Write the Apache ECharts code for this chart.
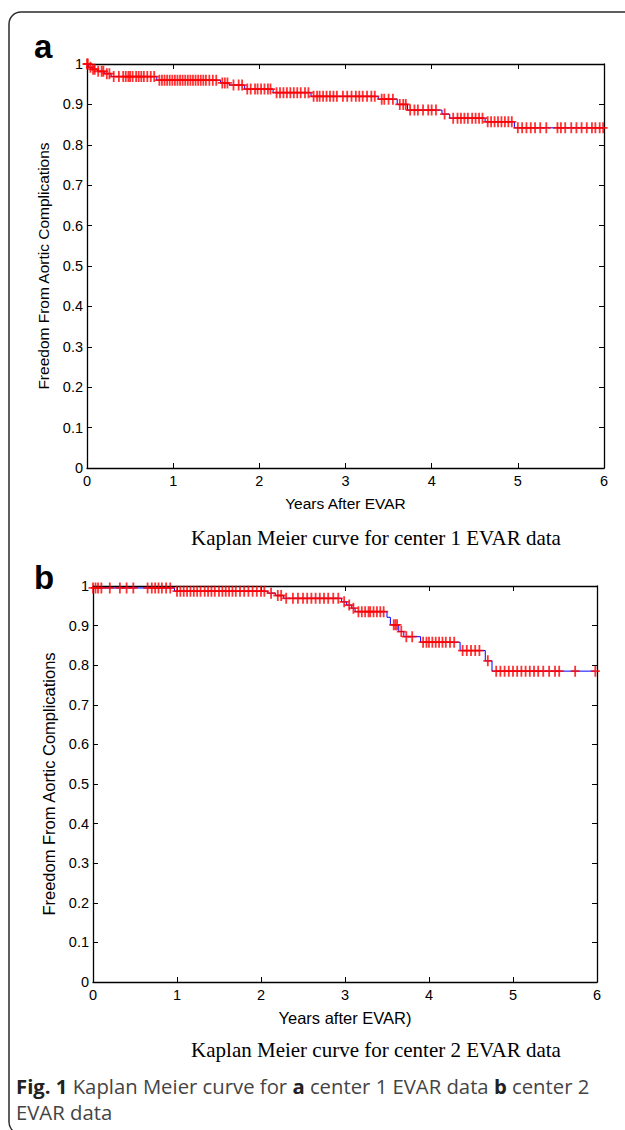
<!DOCTYPE html>
<html><head><meta charset="utf-8">
<script src="https://cdn.jsdelivr.net/npm/echarts@6/dist/echarts.min.js"></script>
<style>html,body{margin:0;padding:0;background:#fff}#c{width:625px;height:1130px}</style>
</head><body><div id="c"></div>
<script>
// ---- Data: chart a (center 1) ----
const stepsA = [[0,1.0],[0.02,0.992],[0.06,0.987],[0.12,0.982],[0.2,0.976],[0.28,0.969],[0.81,0.960],[1.55,0.953],[1.65,0.948],[1.83,0.938],[2.16,0.929],[2.6,0.920],[3.38,0.913],[3.6,0.900],[3.72,0.886],[4.12,0.876],[4.21,0.866],[4.62,0.857],[4.96,0.842]];
const censorA = [0.0,0.01,0.04,0.07,0.09,0.13,0.17,0.19,0.23,0.26,
 0.31,0.37,0.42,0.45,0.48,0.5,0.53,0.57,0.6,0.63,0.66,0.7,0.74,0.78,
 0.84,0.87,0.9,0.93,0.96,0.99,1.02,1.05,1.08,1.11,1.14,1.17,1.2,1.23,1.26,1.29,1.32,1.35,1.38,1.42,1.46,1.5,
 1.57,1.6,1.63,1.7,1.76,1.8,
 1.86,1.9,1.95,1.98,2.02,2.06,2.1,2.13,
 2.2,2.24,2.28,2.32,2.36,2.4,2.44,2.48,2.53,2.57,
 2.63,2.67,2.7,2.74,2.78,2.82,2.86,2.9,2.97,3.02,3.07,3.12,3.16,3.2,3.25,3.3,3.34,
 3.42,3.45,3.5,3.55,3.63,3.67,3.7,3.75,3.8,3.84,3.9,3.96,4.0,4.05,4.15,
 4.25,4.3,4.34,4.38,4.42,4.47,4.51,4.55,4.59,
 4.65,4.69,4.73,4.77,4.81,4.85,4.89,4.93,
 5.0,5.05,5.1,5.15,5.2,5.26,5.33,5.46,5.5,5.55,5.62,5.68,5.74,5.8,5.86,5.9,5.95,5.99];
// ---- Data: chart b (center 2) ----
const stepsB = [[0,0.995],[0.97,0.987],[2.08,0.982],[2.17,0.976],[2.27,0.969],[2.96,0.960],[3.02,0.952],[3.08,0.944],[3.12,0.935],[3.5,0.921],[3.54,0.902],[3.64,0.885],[3.7,0.872],[3.9,0.858],[4.37,0.837],[4.67,0.811],[4.75,0.785]];
const censorB = [0.0,0.03,0.06,0.1,0.2,0.32,0.4,0.48,0.65,0.7,0.74,0.78,0.82,0.87,0.92,
 1.0,1.04,1.08,1.12,1.16,1.2,1.24,1.28,1.33,1.37,1.41,1.45,1.5,1.54,1.58,1.62,1.66,1.7,1.75,1.8,1.85,1.9,1.95,2.0,2.04,
 2.12,2.2,2.24,
 2.3,2.38,2.44,2.5,2.55,2.6,2.65,2.7,2.75,2.8,2.86,2.92,
 2.99,3.05,3.1,
 3.16,3.2,3.24,3.28,3.3,3.34,3.38,3.42,3.46,
 3.58,3.6,3.62,3.67,3.73,3.8,
 3.93,3.97,4.0,4.04,4.08,4.12,4.16,4.2,4.25,4.3,
 4.4,4.45,4.5,4.55,4.6,4.7,
 4.8,4.85,4.9,4.95,5.0,5.05,5.1,5.15,5.2,5.25,5.3,5.36,5.43,5.5,5.55,5.74,5.98];
const xTickLabels = ['0','1','2','3','4','5','6'];
const yTickLabels = ['0','0.1','0.2','0.3','0.4','0.5','0.6','0.7','0.8','0.9','1'];

function survAt(steps, t){ let v = steps[0][1]; for (const s of steps){ if (s[0] <= t) v = s[1]; } return v; }
function lineData(steps, censor){ const d = steps.map(s=>[s[0],s[1]]); const tEnd = Math.max(...censor); d.push([tEnd, steps[steps.length-1][1]]); return d; }
function censorData(steps, censor){ return censor.map(t=>[t, survAt(steps,t)]); }

const plus = 'path://M3.2,0h1.6v4.2h3.2v1.6h-3.2v4.2h-1.6v-4.2h-3.2v-1.6h3.2z';

function axesFor(gi, xName, yName, yGap, tickFs, nameFs){
  const tf = {color:'#000', fontFamily:'Liberation Sans, Arial', fontSize:tickFs};
  const nf = {color:'#000', fontFamily:'Liberation Sans, Arial', fontSize:nameFs};
  const line = {show:true,onZero:false,lineStyle:{color:'#000',width:1.3}};
  const tick = {show:true,inside:true,length:5,lineStyle:{color:'#000'}};
  const xs = [
    {gridIndex:gi, type:'value', min:0, max:6, interval:1, position:'bottom',
     axisLine:line, axisTick:tick,
     axisLabel:Object.assign({margin:5, formatter:v=>xTickLabels[Math.round(v)]}, tf),
     splitLine:{show:false},
     name:xName, nameLocation:'middle', nameGap:27, nameTextStyle:nf},
    {gridIndex:gi, type:'value', min:0, max:6, interval:1, position:'top',
     axisLine:line, axisTick:tick, axisLabel:{show:false}, splitLine:{show:false}}
  ];
  const ys = [
    {gridIndex:gi, type:'value', min:0, max:1, interval:0.1, position:'left',
     axisLine:line, axisTick:tick,
     axisLabel:Object.assign({margin:4, formatter:v=>yTickLabels[Math.round(v*10)]}, tf),
     splitLine:{show:false},
     name:yName, nameLocation:'middle', nameGap:yGap, nameRotate:90, nameTextStyle:nf},
    {gridIndex:gi, type:'value', min:0, max:1, interval:0.1, position:'right',
     axisLine:line, axisTick:tick, axisLabel:{show:false}, splitLine:{show:false}}
  ];
  return {xs, ys};
}
const A = axesFor(0, 'Years After EVAR', 'Freedom From Aortic Complications', 35, 14.5, 15.5);
const B = axesFor(1, 'Years after EVAR)', 'Freedom From Aortic Complications', 34, 14.5, 16.5);

const chart = echarts.init(document.getElementById('c'), null, {renderer:'svg'});
chart.setOption({
  animation:false,
  backgroundColor:'#fff',
  grid:[
    {left:87, top:64, width:517, height:404},
    {left:93, top:586, width:504, height:396}
  ],
  xAxis:[...A.xs, ...B.xs],
  yAxis:[...A.ys, ...B.ys],
  series:[
    {type:'line', step:'end', xAxisIndex:0, yAxisIndex:0, data:lineData(stepsA,censorA), showSymbol:false, lineStyle:{color:'#0000ff',width:1}, z:2},
    {type:'scatter', xAxisIndex:0, yAxisIndex:0, data:censorData(stepsA,censorA), symbol:plus, symbolSize:[9,11], itemStyle:{color:'#ff0000'}, z:3},
    {type:'line', step:'end', xAxisIndex:2, yAxisIndex:2, data:lineData(stepsB,censorB), showSymbol:false, lineStyle:{color:'#0000ff',width:1}, z:2},
    {type:'scatter', xAxisIndex:2, yAxisIndex:2, data:censorData(stepsB,censorB), symbol:plus, symbolSize:[9,11], itemStyle:{color:'#ff0000'}, z:3}
  ],
  graphic:[
    {type:'rect', shape:{x:9,y:12,width:640,height:1122,r:12}, style:{fill:'none', stroke:'#2a2a2a', lineWidth:1.5}, silent:true},
    {type:'text', left:34, top:30, style:{text:'a', font:'bold 33px "Liberation Sans", Arial', fill:'#000'}},
    {type:'text', left:34, top:561, style:{text:'b', font:'bold 33px "Liberation Sans", Arial', fill:'#000'}},
    {type:'text', x:376, y:538, style:{text:'Kaplan Meier curve for center 1 EVAR data', font:'21px "Liberation Serif", "Times New Roman"', fill:'#000', align:'center', verticalAlign:'middle'}},
    {type:'text', x:376, y:1050, style:{text:'Kaplan Meier curve for center 2 EVAR data', font:'21px "Liberation Serif", "Times New Roman"', fill:'#000', align:'center', verticalAlign:'middle'}},
    {type:'text', x:16, y:1086, style:{
      text:'{b|Fig. 1} Kaplan Meier curve for {b|a} center 1 EVAR data {b|b} center 2',
      font:'20.3px "Open Sans"', fill:'#444', verticalAlign:'middle',
      rich:{b:{fontWeight:'bold', fontFamily:'Open Sans', fontSize:20.3, fill:'#222'}}}},
    {type:'text', x:16, y:1112, style:{text:'EVAR data', font:'20.3px "Open Sans"', fill:'#444', verticalAlign:'middle'}}
  ]
});
</script></body></html>
